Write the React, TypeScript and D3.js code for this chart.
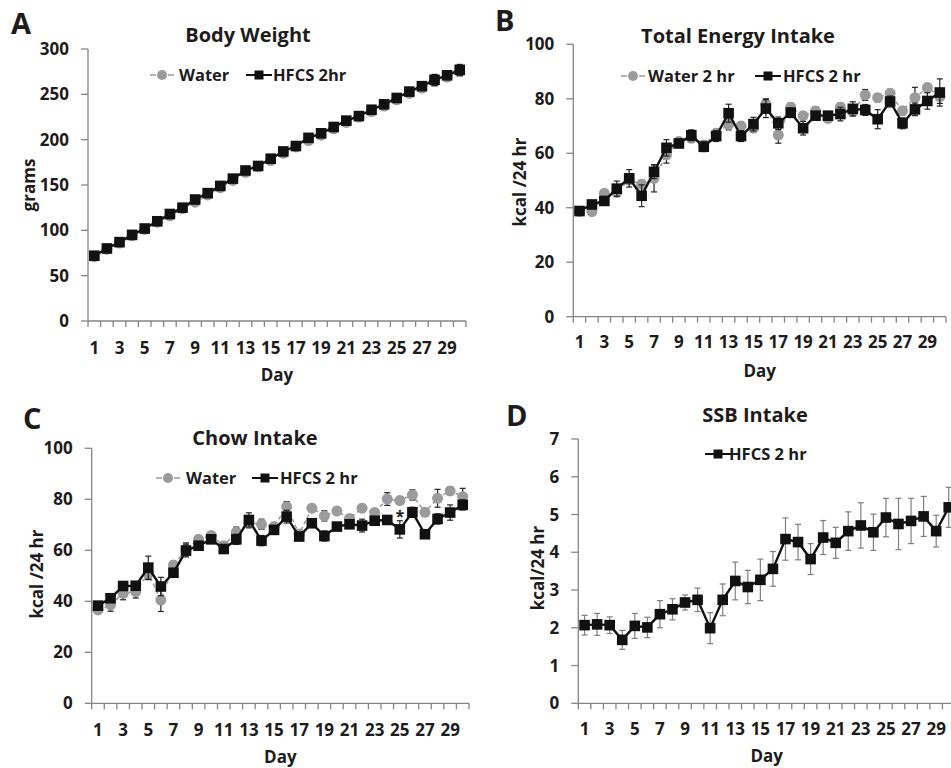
import React from 'react';
import * as d3 from 'd3';

// categories
const days = [1, 2, 3, 4, 5, 6, 7, 8, 9, 10, 11, 12, 13, 14, 15, 16, 17, 18, 19, 20, 21, 22, 23, 24, 25, 26, 27, 28, 29, 30];
const dayLabels = [1, 3, 5, 7, 9, 11, 13, 15, 17, 19, 21, 23, 25, 27, 29];

// y tick labels
const weightTicks = [0, 50, 100, 150, 200, 250, 300];
const intakeTicks = [0, 20, 40, 60, 80, 100];
const ssbTicks = [0, 1, 2, 3, 4, 5, 6, 7];

// A - body weight (g)
const weightWater = [71, 79, 86, 94, 101, 109, 116, 124, 131, 139, 147, 155, 164, 170, 177, 185, 192, 199, 205, 212, 219, 225, 231, 237, 244, 251, 257, 264, 269, 275];
const weightWaterErr = [2, 2, 2, 2, 2, 2, 3, 3, 3, 3, 3, 3, 3, 3, 3, 3, 3, 3, 4, 4, 4, 4, 4, 4, 4, 4, 4, 5, 4, 5];
const weightHfcs = [72, 80, 87, 95, 102, 110, 118, 125, 134, 141, 149, 157, 166, 171, 179, 187, 193, 202, 207, 214, 221, 226, 233, 239, 246, 253, 259, 266, 271, 277];
const weightHfcsErr = [2, 2, 2, 2, 2, 2, 3, 3, 3, 3, 3, 3, 3, 3, 3, 3, 3, 3, 3, 3, 3, 3, 3, 4, 4, 4, 4, 6, 4, 6];

// B - total energy intake (kcal / 24 hr)
const energyWater = [38.6, 38.6, 45.3, 45.6, 50.2, 48.6, 50.8, 59.4, 64.3, 65.5, 63, 67.3, 70.6, 70, 69.2, 78, 66.7, 76.9, 73.8, 75.5, 72.8, 76.9, 75.3, 81.4, 80.4, 82, 75.6, 80.4, 84.1, 80.8];
const energyWaterErr = [1, 1.2, 1.2, 1.5, 1.5, 1.5, 5, 3, 1.5, 1.5, 1.5, 1.5, 2, 1.5, 1.5, 2, 3, 1.5, 1.5, 1.5, 1.5, 1.5, 1.5, 2, 1.5, 1.5, 1.5, 3.8, 1.5, 2.5];
const energyHfcs = [38.8, 41.2, 42.5, 47, 50.8, 44.4, 53.2, 62, 63.6, 66.6, 62.4, 66.3, 74.7, 66.3, 70.7, 76.4, 71, 74.9, 69.2, 73.8, 73.8, 74.4, 76.3, 75.9, 72.5, 79, 71, 76.1, 79.2, 82.3];
const energyHfcsErr = [1, 1.2, 1, 2.8, 3.2, 4, 2.5, 3, 1.5, 2, 1.8, 2, 3.3, 2, 2.5, 3.3, 2.3, 1.8, 2.5, 1.5, 1.5, 2.5, 2.6, 2, 3.5, 2, 2, 2.3, 3, 5];

// C - chow intake (kcal / 24 hr)
const chowWater = [36.6, 38.6, 43.1, 43.8, 51, 40.5, 54.2, 60.4, 64.3, 65.8, 61.8, 67.1, 70.8, 70.2, 69.3, 77.1, 66.4, 76.5, 73.5, 75.4, 72.5, 76.5, 74.8, 80.1, 79.5, 81.7, 74.9, 80.4, 83.3, 81];
const chowWaterErr = [1, 2.5, 2.5, 2.5, 2.5, 4.5, 1.5, 2.5, 1.5, 1.5, 1.5, 2, 2, 2, 1.5, 2, 1.5, 1.5, 2, 1.5, 1.5, 1.5, 1.5, 2.5, 1.5, 2, 1.5, 3.5, 1.5, 3.3];
const chowHfcs = [38.3, 41.2, 46, 46.1, 53.2, 45.8, 51.2, 59.9, 61.8, 64.3, 60.5, 64.3, 71.9, 63.8, 68, 73.2, 65.4, 70.6, 65.6, 69.3, 70.2, 69.7, 71.6, 71.9, 68.2, 74.9, 66.3, 72.3, 74.8, 77.8];
const chowHfcsErr = [1, 1.5, 1.5, 1.5, 4.5, 3.6, 1.5, 2.5, 1.5, 1.5, 1.5, 2, 2.8, 2, 1.5, 2.5, 1.5, 1.5, 2, 1.5, 1.5, 2.5, 1.5, 1.5, 3.4, 2, 1.5, 2, 3, 2];
const chowSignificant = [25];

// D - SSB intake (kcal / 24 hr)
const ssbHfcs = [2.07, 2.09, 2.07, 1.68, 2.05, 2.01, 2.36, 2.49, 2.67, 2.74, 1.99, 2.74, 3.24, 3.08, 3.27, 3.56, 4.35, 4.27, 3.82, 4.39, 4.25, 4.56, 4.71, 4.53, 4.92, 4.75, 4.83, 4.95, 4.56, 5.19];
const ssbHfcsErr = [0.26, 0.29, 0.22, 0.25, 0.33, 0.27, 0.36, 0.28, 0.2, 0.31, 0.41, 0.42, 0.5, 0.44, 0.55, 0.46, 0.56, 0.47, 0.41, 0.45, 0.41, 0.51, 0.6, 0.48, 0.51, 0.68, 0.6, 0.53, 0.42, 0.53];

const FONT = "'Open Sans', sans-serif";
const INK = '#1e1b1c';
const AXIS = '#868686';
const GRAY = '#9b9b9b';

type Kind = 'water' | 'hfcs';
type Series = { kind: Kind; values: number[]; err: number[] };
type LegendItem = { kind: Kind; x: number; textX: number; label: string };

type Layout = {
  letter: string; letterX: number; letterY: number;
  title: string; titleX: number; titleY: number;
  axisX: number; axisEnd: number; top: number; bottom: number;
  tickLabelY: number; dayY: number;
  yLabel: string; yLabelX: number; yLabelY: number;
  legendY: number; legend: LegendItem[];
  errColor: string;
};

function Panel(props: { layout: Layout; ticks: number[]; series: Series[]; stars?: number[] }) {
  const { layout: L, ticks, series, stars = [] } = props;

  const x = d3.scaleBand<number>().domain(days).range([L.axisX, L.axisEnd]).padding(0);
  const y = d3.scaleLinear().domain([ticks[0], ticks[ticks.length - 1]]).range([L.bottom, L.top]);
  const cx = (d: number) => (x(d) ?? 0) + x.bandwidth() / 2;
  const edges = days.map((d) => x(d) as number).concat([L.axisEnd]);

  const line = d3.line<number>().x((_, i) => cx(days[i])).y((v) => y(v));

  const drawSeries = (s: Series, k: number) => {
    const water = s.kind === 'water';
    return (
      <g key={k}>
        <path d={line(s.values) || ''} fill="none"
          stroke={water ? GRAY : '#111'} strokeWidth={water ? 1.5 : 2.4}
          strokeDasharray={water ? '4 3' : undefined} />
        {s.values.map((v, i) => {
          const px = cx(days[i]);
          const e = s.err[i];
          return (
            <g key={i} stroke={L.errColor} strokeWidth={1.2}>
              <line x1={px} x2={px} y1={y(v - e)} y2={y(v + e)} />
              <line x1={px - 3} x2={px + 3} y1={y(v - e)} y2={y(v - e)} />
              <line x1={px - 3} x2={px + 3} y1={y(v + e)} y2={y(v + e)} />
            </g>
          );
        })}
        {s.values.map((v, i) =>
          water ? (
            <circle key={i} cx={cx(days[i])} cy={y(v)} r={5.5} fill={GRAY} />
          ) : (
            <rect key={i} x={cx(days[i]) - 5.3} y={y(v) - 5.3} width={10.6} height={10.6} fill="#111" />
          )
        )}
      </g>
    );
  };

  return (
    <g fontFamily={FONT} fontWeight={700} fill={INK}>
      <text x={L.letterX} y={L.letterY} fontSize={29}>{L.letter}</text>
      <text x={L.titleX} y={L.titleY} fontSize={20} textAnchor="middle">{L.title}</text>

      {/* y axis */}
      <line x1={L.axisX} x2={L.axisX} y1={L.top} y2={L.bottom} stroke={AXIS} strokeWidth={1.3} />
      {ticks.map((t) => (
        <g key={t}>
          <line x1={L.axisX - 7} x2={L.axisX} y1={y(t)} y2={y(t)} stroke={AXIS} strokeWidth={1.3} />
          <text x={L.axisX - 19} y={y(t) + 6} fontSize={17} textAnchor="end">{t}</text>
        </g>
      ))}
      <text transform={`translate(${L.yLabelX},${L.yLabelY}) rotate(-90)`} fontSize={17} textAnchor="middle">{L.yLabel}</text>

      {/* x axis */}
      <line x1={L.axisX} x2={L.axisEnd} y1={L.bottom} y2={L.bottom} stroke={AXIS} strokeWidth={1.3} />
      {edges.map((e, i) => (
        <line key={i} x1={e} x2={e} y1={L.bottom} y2={L.bottom + 6} stroke={AXIS} strokeWidth={1.3} />
      ))}
      {dayLabels.map((d) => (
        <text key={d} x={cx(d)} y={L.tickLabelY} fontSize={17} textAnchor="middle">{d}</text>
      ))}
      <text x={(L.axisX + L.axisEnd) / 2} y={L.dayY} fontSize={17} textAnchor="middle">Day</text>

      {series.map(drawSeries)}

      {stars.map((d) => {
        const s = series[series.length - 1];
        const i = days.indexOf(d);
        return (
          <text key={d} x={cx(d)} y={y(s.values[i] + s.err[i]) + 1} fontSize={16} textAnchor="middle">*</text>
        );
      })}

      {/* legend */}
      {L.legend.map((it, k) => (
        <g key={k}>
          {it.kind === 'water' ? (
            <g>
              <line x1={it.x - 12} x2={it.x - 6} y1={L.legendY} y2={L.legendY} stroke={GRAY} strokeWidth={1.5} />
              <line x1={it.x + 6} x2={it.x + 12} y1={L.legendY} y2={L.legendY} stroke={GRAY} strokeWidth={1.5} />
              <circle cx={it.x} cy={L.legendY} r={5} fill={GRAY} />
            </g>
          ) : (
            <g>
              <line x1={it.x - 13} x2={it.x + 13} y1={L.legendY} y2={L.legendY} stroke="#111" strokeWidth={2} />
              <rect x={it.x - 4.5} y={L.legendY - 4.5} width={9} height={9} fill="#111" />
            </g>
          )}
          <text x={it.textX} y={L.legendY + 6} fontSize={16.5}>{it.label}</text>
        </g>
      ))}
    </g>
  );
}

const layoutA: Layout = {
  letter: 'A', letterX: 11, letterY: 34,
  title: 'Body Weight', titleX: 248, titleY: 42,
  axisX: 88, axisEnd: 466, top: 49, bottom: 321,
  tickLabelY: 354, dayY: 381,
  yLabel: 'grams', yLabelX: 35, yLabelY: 185,
  legendY: 75,
  legend: [
    { kind: 'water', x: 162, textX: 179, label: 'Water' },
    { kind: 'hfcs', x: 259, textX: 273, label: 'HFCS 2hr' },
  ],
  errColor: '#222',
};

const layoutB: Layout = {
  letter: 'B', letterX: 495, letterY: 31,
  title: 'Total Energy Intake', titleX: 738, titleY: 43,
  axisX: 573.3, axisEnd: 946, top: 44.3, bottom: 316.7,
  tickLabelY: 348, dayY: 377,
  yLabel: 'kcal /24 hr', yLabelX: 526, yLabelY: 182,
  legendY: 76,
  legend: [
    { kind: 'water', x: 633, textX: 648, label: 'Water 2 hr' },
    { kind: 'hfcs', x: 768, textX: 783, label: 'HFCS 2 hr' },
  ],
  errColor: '#222',
};

const layoutC: Layout = {
  letter: 'C', letterX: 23, letterY: 429,
  title: 'Chow Intake', titleX: 255, titleY: 445,
  axisX: 91.7, axisEnd: 469, top: 448.3, bottom: 703.3,
  tickLabelY: 736, dayY: 763,
  yLabel: 'kcal /24 hr', yLabelX: 43, yLabelY: 574,
  legendY: 478,
  legend: [
    { kind: 'water', x: 168, textX: 186, label: 'Water' },
    { kind: 'hfcs', x: 265, textX: 280, label: 'HFCS 2 hr' },
  ],
  errColor: '#222',
};

const layoutD: Layout = {
  letter: 'D', letterX: 506, letterY: 426,
  title: 'SSB Intake', titleX: 755, titleY: 422,
  axisX: 578.3, axisEnd: 955, top: 439, bottom: 703.3,
  tickLabelY: 735, dayY: 762,
  yLabel: 'kcal/24 hr', yLabelX: 544, yLabelY: 568,
  legendY: 454,
  legend: [{ kind: 'hfcs', x: 718, textX: 729, label: 'HFCS 2 hr' }],
  errColor: '#7f7f7f',
};

export default function App() {
  return (
    <svg width={951} height={768} style={{ position: 'absolute', left: 0, top: 0, display: 'block', background: '#fff' }}>
      <rect width={951} height={768} fill="#fff" />
      <Panel layout={layoutA} ticks={weightTicks}
        series={[
          { kind: 'water', values: weightWater, err: weightWaterErr },
          { kind: 'hfcs', values: weightHfcs, err: weightHfcsErr },
        ]} />
      <Panel layout={layoutB} ticks={intakeTicks}
        series={[
          { kind: 'water', values: energyWater, err: energyWaterErr },
          { kind: 'hfcs', values: energyHfcs, err: energyHfcsErr },
        ]} />
      <Panel layout={layoutC} ticks={intakeTicks} stars={chowSignificant}
        series={[
          { kind: 'water', values: chowWater, err: chowWaterErr },
          { kind: 'hfcs', values: chowHfcs, err: chowHfcsErr },
        ]} />
      <Panel layout={layoutD} ticks={ssbTicks}
        series={[{ kind: 'hfcs', values: ssbHfcs, err: ssbHfcsErr }]} />
    </svg>
  );
}
